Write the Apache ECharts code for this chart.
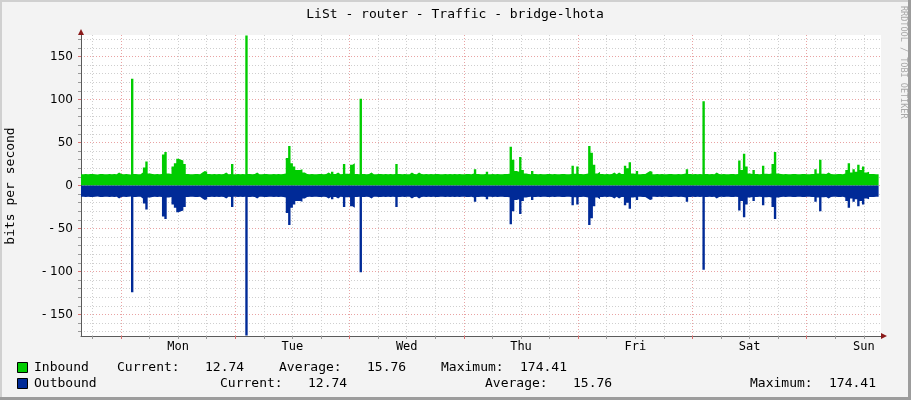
<!DOCTYPE html>
<html>
<head>
<meta charset="utf-8">
<script src="https://cdn.jsdelivr.net/npm/echarts@6/dist/echarts.min.js"></script>
<style>
html,body{margin:0;padding:0;background:#f3f3f3;}
#c{width:911px;height:400px;}
</style>
</head>
<body>
<div id="c"></div>
<script>
// ---- data ----
const titleText = 'LiSt - router - Traffic - bridge-lhota';
const dayNames = ['Mon','Tue','Wed','Thu','Fri','Sat','Sun'];
const dayLabelHours = [12, 36, 60, 84, 108, 132, 156];
const yTickLabels = [-150, -100, -50, 0, 50, 100, 150];
const startHour = -8.4;   // hours relative to Monday 00:00 at left edge
const stepHours = 0.5;    // one sample every 30 minutes
const inbound = [
13.2,13.4,13.0,13.3,13.5,13.1,12.9,13.3,13.4,13.2,13.0,13.3,
13.1,13.4,13.2,15,13.3,13.0,13.4,13.2,12.8,124,13.3,13.1,
13.2,15,21,28,14,13.3,13.1,13.4,13.0,13.3,36,39,
14,13.4,22,26,31,30,29,25,13.5,13.2,13.0,13.3,
13.4,13.1,15,17,16,13.3,13.2,13.5,13.0,13.3,13.1,13.4,
15,13.2,13.4,25,13.1,13.3,13.0,13.4,13.2,174.41,13.3,13.1,
13.4,15,13.2,13.0,13.3,13.5,13.1,13.2,13.4,13.0,13.3,13.2,
13.4,14,32,46,26,22,18,18,19,15,13.3,13.1,
13.4,13.2,13.0,13.3,13.5,13.2,13.4,15,13.3,16,13.4,15,
13.2,13.4,25,13.6,13.3,24,26,13.5,13.2,101,13.3,13.1,
13.4,15,13.2,13.0,13.3,13.4,13.1,13.3,13.0,13.4,13.2,13.3,
25,13.3,13.1,13.4,13.2,13.0,15,13.3,13.2,15,13.4,13.1,
13.3,13.0,13.4,13.2,13.3,13.5,13.1,13.2,13.4,13.0,13.3,13.2,
13.4,13.1,13.3,13.0,13.2,13.4,13.3,13.1,14,19,13.4,13.2,
13.0,13.3,16,13.2,13.4,13.1,13.3,13.0,13.2,13.4,13.3,13.6,
45,30,17,16,33,18,14,13.3,13.2,17,13.4,13.1,
13.3,13.0,13.2,13.4,13.3,13.1,13.4,13.2,13.0,13.3,13.4,13.2,
13.1,13.5,23,13.6,22,13.4,13.2,13.3,14,46,38,24,
14,16,13.3,13.1,13.4,13.2,13.3,15,13.2,15,13.4,13.3,
23,20,27,14,13.4,17,13.2,13.3,13.4,15,17,16,
13.2,13.4,13.1,13.3,13.0,13.2,13.4,13.3,13.1,13.2,13.4,13.0,
13.3,14,19,13.5,13.2,13.4,13.1,13.3,13.2,98,13.4,13.1,
13.3,13.2,15,13.4,13.1,13.3,13.0,13.2,13.4,13.3,13.1,13.5,
29,18,37,22,14,13.4,18,13.5,13.2,13.4,23,13.6,
13.4,14,25,39,14,13.3,13.1,13.4,13.2,13.0,13.3,13.4,
13.2,13.1,13.3,13.4,13.0,13.2,13.4,13.3,19,14,30,13.6,
13.3,15,13.4,13.2,13.1,13.3,13.4,13.2,14,18,26,15,
19,16,24,18,22,15,16,13.5,13.4,13.2,13.1,12.74
];
const outbound = inbound.map(v => -v); // outbound is drawn mirrored below zero
const legendNames = ['Inbound', 'Outbound'];
const statCurrent = ['12.74', '12.74'];
const statAverage = ['15.76', '15.76'];
const statMaximum = ['174.41', '174.41'];

// ---- styles ----
const GREEN = '#00cc00', BLUE = '#002a97';
const MONO = '"DejaVu Sans Mono", monospace';
const minorColor = '#cfcfcf', majorColor = '#e9a3a3';

const xMin = startHour, xMax = startHour + 168;
const xMinorTicks = [], xMajorTicks = [];
for (let h = -6; h < xMax; h += 6) { (h % 24 === 0 ? xMajorTicks : xMinorTicks).push(h); }
const yMinorTicks = [], yMajorTicks = [];
for (let v = -170; v <= 170; v += 10) { (v % 50 === 0 ? yMajorTicks : yMinorTicks).push(v); }

const inData = inbound.map((v, i) => [startHour + i * stepHours, v]);
const outData = outbound.map((v, i) => [startHour + i * stepHours, v]);

const chart = echarts.init(document.getElementById('c'), null, {renderer: 'canvas'});

function txt(x, y, s, opt) {
  return Object.assign({type: 'text', x: x, y: y, silent: true,
    style: Object.assign({text: s, fill: '#000', font: '13px ' + MONO, verticalAlign: 'middle', textAlign: 'left'}, opt || {})});
}

const rowY = [368, 384];
const legendCols = [
  {cur: 117, curV: 205, avg: 279, avgV: 367, max: 441, maxV: 520},
  {cur: 220, curV: 308, avg: 485, avgV: 573, max: 750, maxV: 829}
];
const graphics = [
  // frame
  {type: 'rect', shape: {x: 0, y: 0, width: 911, height: 2}, style: {fill: '#d0d0d0'}, silent: true},
  {type: 'rect', shape: {x: 0, y: 0, width: 2, height: 400}, style: {fill: '#d0d0d0'}, silent: true},
  {type: 'rect', shape: {x: 0, y: 397, width: 911, height: 3}, style: {fill: '#9c9c9c'}, silent: true},
  {type: 'rect', shape: {x: 908, y: 0, width: 3, height: 400}, style: {fill: '#9c9c9c'}, silent: true},
  txt(455, 15, titleText, {textAlign: 'center'}),
  {type: 'text', x: 11, y: 186, rotation: Math.PI / 2, silent: true,
    style: {text: 'bits per second', font: '13px ' + MONO, fill: '#000', textAlign: 'center', verticalAlign: 'middle'}},
  {type: 'text', x: 903, y: 6, rotation: -Math.PI / 2, silent: true,
    style: {text: 'RRDTOOL / TOBI OETIKER', font: '8.5px ' + MONO, fill: '#a8a8a8', textAlign: 'left', verticalAlign: 'middle'}},
  // axis arrows
  {type: 'polygon', shape: {points: [[78, 35], [84, 35], [81, 29]]}, style: {fill: '#8b1a1a'}, silent: true, z: 100},
  {type: 'polygon', shape: {points: [[881, 333], [881, 339], [887, 336]]}, style: {fill: '#8b1a1a'}, silent: true, z: 100}
];
[GREEN, BLUE].forEach((c, k) => {
  const y = rowY[k], L = legendCols[k];
  graphics.push({type: 'rect', shape: {x: 17.5, y: y - 5.5, width: 10, height: 10}, style: {fill: c, stroke: '#000', lineWidth: 1}, silent: true});
  graphics.push(txt(34, y, legendNames[k]));
  graphics.push(txt(L.cur, y, 'Current:'));
  graphics.push(txt(L.curV, y, statCurrent[k]));
  graphics.push(txt(L.avg, y, 'Average:'));
  graphics.push(txt(L.avgV, y, statAverage[k]));
  graphics.push(txt(L.max, y, 'Maximum:'));
  graphics.push(txt(L.maxV, y, statMaximum[k]));
});

const option = {
  backgroundColor: '#f3f3f3',
  animation: false,
  grid: {left: 81, right: 30, top: 35, bottom: 64, show: true, backgroundColor: '#ffffff', borderWidth: 0},
  xAxis: [
    {type: 'value', min: xMin, max: xMax,
      axisLine: {show: true, onZero: false, lineStyle: {color: '#5a5a5a', width: 1}},
      axisTick: {show: true, customValues: xMinorTicks, length: 3, lineStyle: {color: '#999'}},
      axisLabel: {show: true, customValues: dayLabelHours, margin: 5, color: '#000', font: '12px ' + MONO,
        fontFamily: MONO, fontSize: 12,
        formatter: v => dayNames[Math.round((v - 12) / 24)]},
      splitLine: {show: true, lineStyle: {color: minorColor, type: [1, 2], width: 1}}},
    {type: 'value', min: xMin, max: xMax, position: 'bottom',
      axisLine: {show: false, onZero: false},
      axisTick: {show: true, customValues: xMajorTicks, length: 3, lineStyle: {color: '#d97070'}},
      axisLabel: {show: false},
      splitLine: {show: true, lineStyle: {color: majorColor, type: [1, 2], width: 1}}}
  ],
  yAxis: [
    {type: 'value', min: -175, max: 175,
      axisLine: {show: true, onZero: false, lineStyle: {color: '#5a5a5a', width: 1}},
      axisTick: {show: true, customValues: yMinorTicks, length: 3, lineStyle: {color: '#999'}},
      axisLabel: {show: true, customValues: yTickLabels, margin: 8, color: '#000',
        fontFamily: '"DejaVu Sans", sans-serif', fontSize: 12,
        formatter: v => v < 0 ? '- ' + (-v) : String(v)},
      splitLine: {show: true, lineStyle: {color: minorColor, type: [1, 2], width: 1}}},
    {type: 'value', min: -175, max: 175, position: 'left',
      axisLine: {show: false, onZero: false},
      axisTick: {show: true, customValues: yMajorTicks, length: 3, lineStyle: {color: '#d97070'}},
      axisLabel: {show: false},
      splitLine: {show: true, lineStyle: {color: majorColor, type: [1, 2], width: 1}}}
  ],
  series: [
    {name: 'Inbound', type: 'line', data: inData, step: 'end', symbol: 'none', silent: true,
      xAxisIndex: 0, yAxisIndex: 0,
      lineStyle: {width: 0}, itemStyle: {color: GREEN}, areaStyle: {color: GREEN, opacity: 1}},
    {name: 'Outbound', type: 'line', data: outData, step: 'end', symbol: 'none', silent: true,
      xAxisIndex: 0, yAxisIndex: 0,
      lineStyle: {width: 0}, itemStyle: {color: BLUE}, areaStyle: {color: BLUE, opacity: 1}}
  ],
  graphic: graphics
};
chart.setOption(option);
</script>
</body>
</html>
